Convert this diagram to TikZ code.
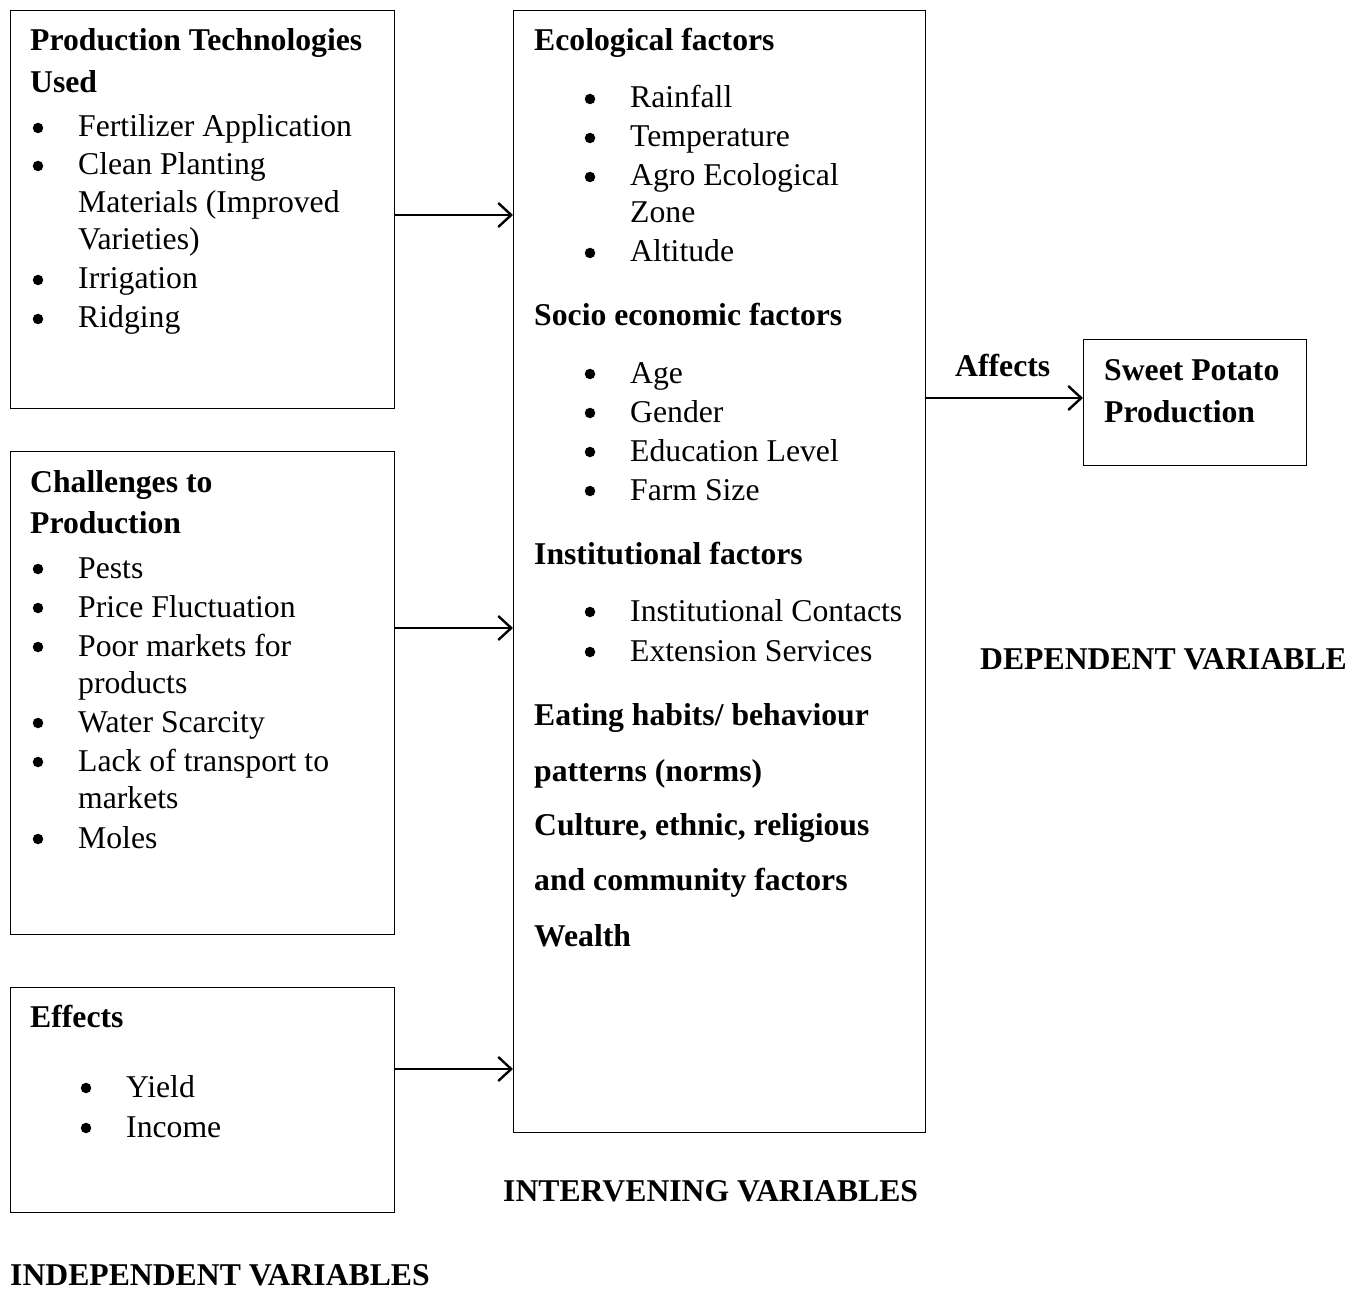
\documentclass[tikz,border=0pt]{standalone}
\usepackage{fontspec}
\setmainfont{Liberation Serif}
\usetikzlibrary{arrows.meta}
\begin{document}
\begin{tikzpicture}[x=1pt,y=-1pt,
  box/.style={draw,line width=1.3pt},
  conn/.style={line width=2pt,-{Straight Barb[length=13pt,width=24pt,line width=2.4pt]}},
  txt/.style={anchor=base west,inner sep=0pt,font=\fontsize{31.7}{38}\selectfont},
  btxt/.style={txt,font=\fontsize{31.7}{38}\selectfont\bfseries},
  bul/.style={circle,fill,inner sep=0pt,minimum size=10.5pt}]
\useasboundingbox (0,0) rectangle (1371,1289);
% boxes
\node[box,minimum width=384pt,minimum height=398pt,anchor=north west,inner sep=0pt] (b1) at (10,10) {};
\node[box,minimum width=384pt,minimum height=483pt,anchor=north west,inner sep=0pt] (b2) at (10,451) {};
\node[box,minimum width=384pt,minimum height=225pt,anchor=north west,inner sep=0pt] (b3) at (10,987) {};
\node[box,minimum width=412pt,minimum height=1122pt,anchor=north west,inner sep=0pt] (mid) at (513,10) {};
\node[box,minimum width=223pt,minimum height=126pt,anchor=north west,inner sep=0pt] (out) at (1083,339) {};
% connectors
\coordinate (a1) at (394,215); \coordinate (m1) at (513,215);
\coordinate (a2) at (394,628); \coordinate (m2) at (513,628);
\coordinate (a3) at (394,1069); \coordinate (m3) at (513,1069);
\coordinate (a4) at (925,398); \coordinate (m4) at (1083,398);
\draw[conn] (a1) -- (m1);
\draw[conn] (a2) -- (m2);
\draw[conn] (a3) -- (m3);
\draw[conn] (a4) -- (m4);
% box 1
\node[btxt] (t11) at (30,51) {Production Technologies};
\node[btxt] (t12) at (30,93) {Used};
\foreach \n/\yy/\s in {a/126/Fertilizer Application,b/164/Clean Planting,c/278/Irrigation,d/317/Ridging}{
  \node[bul] (p1\n) at (38,\yy+2) {};
  \node[txt] (q1\n) at (78,\yy+11) {\s};}
\node[txt] (q1e) at (78,213) {Materials (Improved};
\node[txt] (q1f) at (78,250) {Varieties)};
% box 2
\node[btxt] (t21) at (30,492) {Challenges to};
\node[btxt] (t22) at (30,533) {Production};
\foreach \n/\yy/\s in {a/567/Pests,b/606/Price Fluctuation,c/645/Poor markets for,d/721/Water Scarcity,e/760/Lack of transport to,f/837/Moles}{
  \node[bul] (p2\n) at (38,\yy+2) {};
  \node[txt] (q2\n) at (78,\yy+11) {\s};}
\node[txt] (q2g) at (78,693) {products};
\node[txt] (q2h) at (78,808) {markets};
% box 3
\node[btxt] (t31) at (30,1027) {Effects};
\foreach \n/\yy/\s in {a/1086/Yield,b/1126/Income}{
  \node[bul] (p3\n) at (86,\yy+2) {};
  \node[txt] (q3\n) at (126,\yy+11) {\s};}
% middle
\node[btxt] (h1) at (534,51) {Ecological factors};
\foreach \n/\yy/\s in {a/97/Rainfall,b/136/Temperature,c/175/Agro Ecological,d/251/Altitude,e/372/Age,f/411/Gender,g/450/Education Level,h/489/Farm Size,i/610/Institutional Contacts,j/650/Extension Services}{
  \node[bul] (pm\n) at (590,\yy+2) {};
  \node[txt] (qm\n) at (630,\yy+11) {\s};}
\node[txt] (qmk) at (630,223) {Zone};
\node[btxt] (h2) at (534,326) {Socio economic factors};
\node[btxt] (h3) at (534,564) {Institutional factors};
\node[btxt] (h4) at (534,725) {Eating habits/ behaviour};
\node[btxt] (h5) at (534,781) {patterns (norms)};
\node[btxt] (h6) at (534,835) {Culture, ethnic, religious};
\node[btxt] (h7) at (534,890) {and community factors};
\node[btxt] (h8) at (534,946) {Wealth};
% right
\node[btxt] (o1) at (1104,380) {Sweet Potato};
\node[btxt] (o2) at (1104,422) {Production};
\node[btxt] (aff) at (955,376) {Affects};
% captions
\node[btxt] (c1) at (980,669) {DEPENDENT VARIABLE};
\node[btxt] (c2) at (503,1201) {INTERVENING VARIABLES};
\node[btxt,text depth=0pt] (c3) at (10,1285) {INDEPENDENT VARIABLES};
\end{tikzpicture}
\end{document}
